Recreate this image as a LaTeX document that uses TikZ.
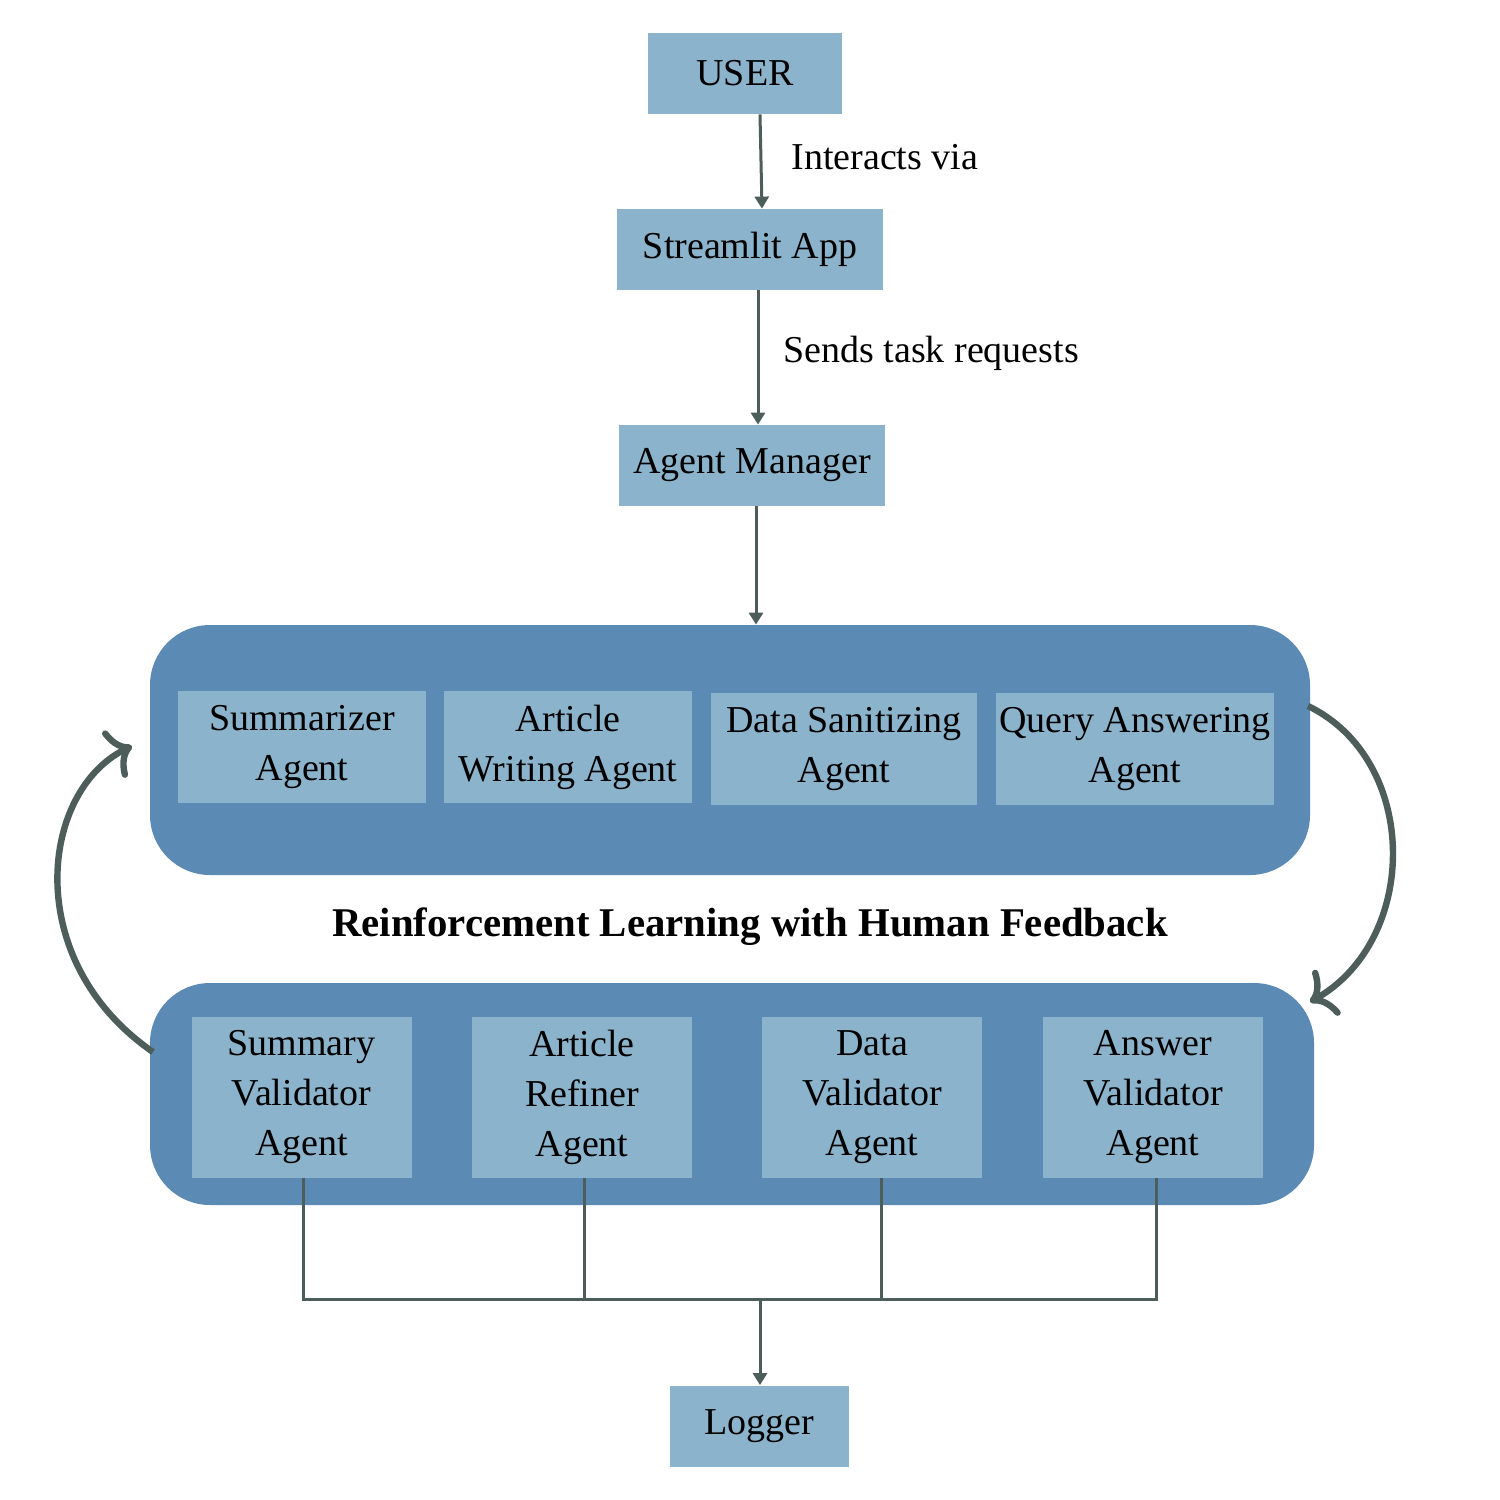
\documentclass[tikz,border=0pt]{standalone}
\usepackage{fontspec}
\setmainfont{Liberation Serif}
\usetikzlibrary{arrows.meta}
\definecolor{boxfill}{RGB}{139,179,203}
\definecolor{groupfill}{RGB}{91,139,181}
\definecolor{linec}{RGB}{77,94,90}
\begin{document}
\begin{tikzpicture}[x=0.5pt,y=-0.5pt,
  every node/.style={font=\fontsize{19}{25}\selectfont},
  box/.style={fill=boxfill,inner sep=0pt,align=center},
  group/.style={fill=groupfill,rounded corners=30pt,inner sep=0pt},
  conn/.style={draw=linec,line width=1.5pt},
  arr/.style={conn,-{Triangle[length=6pt,width=7pt]}},
  loop/.style={draw=linec,line width=3.2pt,-{To[length=11pt,width=26pt]}},
  lbl/.style={anchor=west,inner sep=0pt}]
\useasboundingbox (0,0) rectangle (1500,1500);
% groups
\node[group,minimum width=580pt,minimum height=125pt] (top) at (730,750) {};
\node[group,minimum width=582pt,minimum height=111pt] (bot) at (732,1094) {};
% main nodes
\node[box,minimum width=97pt,minimum height=40.5pt] (user) at (745,73.5) {USER};
\node[box,minimum width=133pt,minimum height=40.5pt] (app) at (750,249.5) {Streamlit App};
\node[box,minimum width=133pt,minimum height=40.5pt] (mgr) at (752,465.5) {Agent Manager};
% agents
\node[box,minimum width=124pt,minimum height=56pt] (a1) at (302,747) {Summarizer\\Agent};
\node[box,minimum width=124pt,minimum height=56pt] (a2) at (568,747) {Article\\Writing Agent};
\node[box,minimum width=133pt,minimum height=56pt] (a3) at (844,749) {Data Sanitizing\\Agent};
\node[box,minimum width=139pt,minimum height=56pt] (a4) at (1135,749) {Query Answering\\Agent};
% validators
\node[box,minimum width=110pt,minimum height=80.5pt] (v1) at (301.5,1097.5) {Summary\\Validator\\Agent};
\node[box,minimum width=110pt,minimum height=80.5pt] (v2) at (582,1097.5) {Article\\Refiner\\Agent};
\node[box,minimum width=110pt,minimum height=80.5pt] (v3) at (872,1097.5) {Data\\Validator\\Agent};
\node[box,minimum width=110pt,minimum height=80.5pt] (v4) at (1153,1097.5) {Answer\\Validator\\Agent};
\node[box,minimum width=89.5pt,minimum height=40.5pt] (log) at (759.5,1426) {Logger};
% title
\node[font=\fontsize{20.4}{25}\selectfont\bfseries] (rl) at (750,927) {Reinforcement Learning with Human Feedback};
% arrows
\draw[arr] ([xshift=7.5pt]user.south) -- ([xshift=6pt]app.north);
\node[lbl] (l1) at (791,157) {Interacts via};
\draw[arr] ([xshift=4pt]app.south) -- ([xshift=4pt]app.south |- mgr.north);
\node[lbl] (l2) at (783,353) {Sends task requests};
\draw[arr] ([xshift=2pt]mgr.south) -- ([xshift=2pt]mgr.south |- top.north);
% bus to logger
\coordinate (bus) at (760,1299);
\draw[conn] ([xshift=0.75pt]v1.south) -- ([xshift=0.75pt]v1.south |- bus) -- ([xshift=1.5pt]v4.south |- bus) -- ([xshift=1.5pt]v4.south);
\draw[conn] ([xshift=1pt]v2.south) -- ([xshift=1pt]v2.south |- bus);
\draw[conn] ([xshift=4.5pt]v3.south) -- ([xshift=4.5pt]v3.south |- bus);
\draw[arr] (bus) -- (log.north -| bus);
% feedback loops
\coordinate (lstart) at (153,1052);
\coordinate (lend) at (132,746);
\coordinate (rstart) at (1308,706);
\coordinate (rend) at (1310,1002);
\draw[loop] (lstart) .. controls (20,960) and (40,790) .. (lend);
\draw[loop] (rstart) .. controls (1420,760) and (1420,940) .. (rend);
\end{tikzpicture}
\end{document}
